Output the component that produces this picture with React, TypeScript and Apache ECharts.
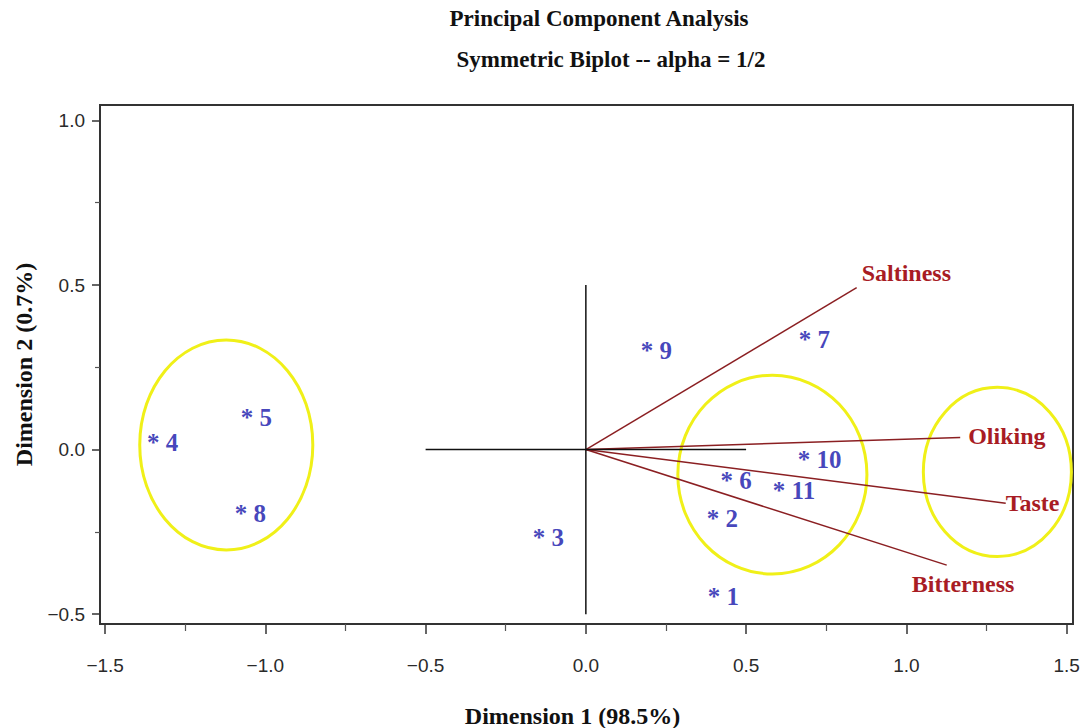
import React, { useEffect, useRef } from "react";
import * as echarts from "echarts";

// ---- Data ----
const xMajorTicks = [-1.5, -1.0, -0.5, 0.0, 0.5, 1.0, 1.5];
const xMinorTicks = [-1.25, -0.75, -0.25, 0.25, 0.75, 1.25];
const yMajorTicks = [-0.5, 0.0, 0.5, 1.0];
const yMinorTicks = [-0.25, 0.25, 0.75];

const obsIds = ["1", "2", "3", "4", "5", "6", "7", "8", "9", "10", "11"];
const obsDim1 = [0.396, 0.393, -0.15, -1.354, -1.061, 0.436, 0.68, -1.08, 0.187, 0.677, 0.599];
const obsDim2 = [-0.445, -0.208, -0.266, 0.02, 0.096, -0.093, 0.333, -0.193, 0.302, -0.029, -0.123];

const varNames = ["Saltiness", "Oliking", "Taste", "Bitterness"];
const varDim1 = [0.845, 1.168, 1.31, 1.126];
const varDim2 = [0.492, 0.037, -0.163, -0.351];

const ellipseCX = [-1.122, 0.582, 1.284];
const ellipseCY = [0.014, -0.076, -0.068];
const ellipseRX = [0.27, 0.295, 0.231];
const ellipseRY = [0.319, 0.302, 0.257];

const crossH = [[-0.5, 0], [0.5, 0]];
const crossV = [[0, -0.5], [0, 0.5]];

const titleText = "Principal Component Analysis";
const subtitleText = "Symmetric Biplot -- alpha = 1/2";
const xName = "Dimension 1 (98.5%)";
const yName = "Dimension 2 (0.7%)";

// label placement (style only)
const varLabelPlacement: Record<string, { dx: number; dy: number }> = {
  Saltiness: { dx: 5, dy: -15 },
  Oliking: { dx: 8, dy: -1 },
  Taste: { dx: 0, dy: 0 },
  Bitterness: { dx: -35, dy: 19 },
};

const SERIF = "'Liberation Serif', 'Times New Roman', serif";
const SANS = "'Liberation Sans', Arial, sans-serif";
const fmtTick = (v: number) => (v < 0 ? "\u2212" + Math.abs(v).toFixed(1) : v.toFixed(1));

export default function App() {
  const ref = useRef<HTMLDivElement>(null);
  useEffect(() => {
    if (!ref.current) return;
    const chart = echarts.init(ref.current, null, { renderer: "svg" });
    const axisCommon = {
      type: "value" as const,
      splitLine: { show: false },
      axisLine: { show: false, onZero: false },
    };
    chart.setOption({
      animation: false,
      backgroundColor: "#ffffff",
      graphic: [
        {
          type: "text",
          x: 599,
          y: 7,
          style: { text: titleText, font: `bold 23px ${SERIF}`, fill: "#111", align: "center", verticalAlign: "top" },
        },
        {
          type: "text",
          x: 611,
          y: 48,
          style: { text: subtitleText, font: `bold 23px ${SERIF}`, fill: "#111", align: "center", verticalAlign: "top" },
        },
      ],
      grid: {
        left: 100,
        top: 105,
        width: 973,
        height: 519,
        show: true,
        borderColor: "#333",
        borderWidth: 2,
        backgroundColor: "#fff",
        containLabel: false,
        outerBoundsMode: "none",
      },
      xAxis: [
        {
          ...axisCommon,
          min: -1.516,
          max: 1.52,
          position: "bottom",
          name: xName,
          nameLocation: "middle",
          nameGap: 80,
          nameTextStyle: { fontFamily: SERIF, fontWeight: "bold", fontSize: 24, color: "#111", padding: [0, 28, 0, 0] },
          axisTick: { show: true, customValues: xMajorTicks, length: 10, lineStyle: { color: "#333", width: 1.5 } },
          axisLabel: { customValues: xMajorTicks, formatter: fmtTick, margin: 32, fontFamily: SANS, fontSize: 19, color: "#2a2a2a" },
        },
        {
          ...axisCommon,
          min: -1.516,
          max: 1.52,
          position: "bottom",
          axisTick: { show: true, customValues: xMinorTicks, length: 7, lineStyle: { color: "#555", width: 1.2 } },
          axisLabel: { show: false },
        },
      ],
      yAxis: [
        {
          ...axisCommon,
          min: -0.53,
          max: 1.047,
          position: "left",
          name: yName,
          nameLocation: "middle",
          nameGap: 64,
          nameRotate: 90,
          nameTextStyle: { fontFamily: SERIF, fontWeight: "bold", fontSize: 24, color: "#111" },
          axisTick: { show: true, customValues: yMajorTicks, length: 8, lineStyle: { color: "#333", width: 1.5 } },
          axisLabel: { customValues: yMajorTicks, formatter: fmtTick, margin: 15, fontFamily: SANS, fontSize: 19, color: "#2a2a2a" },
        },
        {
          ...axisCommon,
          min: -0.53,
          max: 1.047,
          position: "left",
          axisTick: { show: true, customValues: yMinorTicks, length: 5, lineStyle: { color: "#555", width: 1.2 } },
          axisLabel: { show: false },
        },
      ],
      series: [
        {
          type: "line",
          data: crossH,
          symbol: "none",
          lineStyle: { color: "#111", width: 1.5 },
        },
        {
          type: "line",
          data: crossV,
          symbol: "none",
          lineStyle: { color: "#111", width: 1.5 },
        },
        {
          type: "custom",
          data: ellipseCX.map((cx, i) => [cx, ellipseCY[i], ellipseRX[i], ellipseRY[i]]),
          renderItem: (params: any, api: any) => {
            const c = api.coord([api.value(0), api.value(1)]);
            const s = api.size([api.value(2), api.value(3)]);
            return {
              type: "ellipse",
              shape: { cx: c[0], cy: c[1], rx: s[0], ry: s[1] },
              style: { fill: "none", stroke: "#f0f018", lineWidth: 3 },
            };
          },
        },
        {
          type: "custom",
          data: varNames.map((n, i) => [varDim1[i], varDim2[i], n]),
          renderItem: (params: any, api: any) => {
            const o = api.coord([0, 0]);
            const e = api.coord([api.value(0), api.value(1)]);
            const name = varNames[params.dataIndex];
            const pl = varLabelPlacement[name];
            return {
              type: "group",
              children: [
                {
                  type: "line",
                  shape: { x1: o[0], y1: o[1], x2: e[0], y2: e[1] },
                  style: { stroke: "#8b1f22", lineWidth: 1.5 },
                },
                {
                  type: "text",
                  style: {
                    text: name,
                    x: e[0] + pl.dx,
                    y: e[1] + pl.dy,
                    align: "left",
                    verticalAlign: "middle",
                    font: `bold 24px ${SERIF}`,
                    fill: "#a81c24",
                  },
                },
              ],
            };
          },
        },
        {
          type: "scatter",
          data: obsIds.map((id, i) => [obsDim1[i], obsDim2[i], id]),
          symbolSize: 0,
          label: {
            show: true,
            position: "right",
            distance: -5,
            formatter: (p: any) => "* " + p.data[2],
            fontFamily: SERIF,
            fontWeight: "bold",
            fontSize: 25,
            color: "#1414aa",
          },
        },
      ],
    });
    return () => chart.dispose();
  }, []);
  return <div ref={ref} style={{ width: 1081, height: 728, position: "absolute", left: 0, top: 0 }} />;
}
